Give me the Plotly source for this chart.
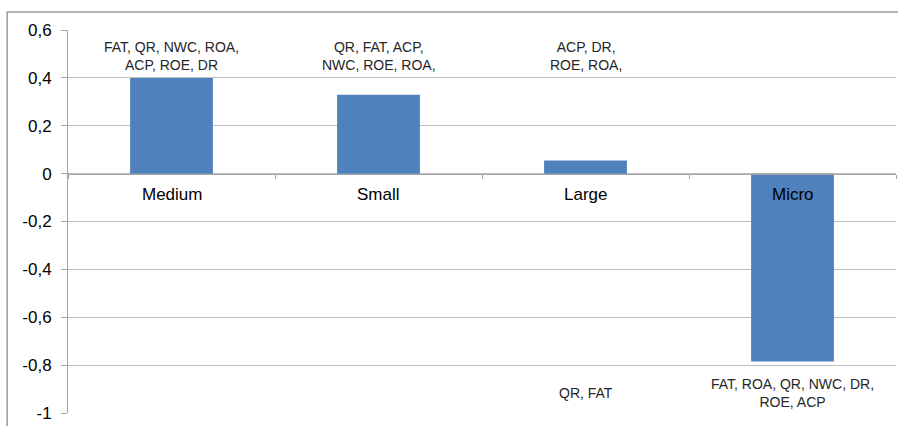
import plotly.graph_objects as go

# Size groups and their score on the axis
categories = ["Medium", "Small", "Large", "Micro"]
values = [0.40, 0.33, 0.055, -0.785]

# Ratio lists written next to each bar
upper_notes = ["FAT, QR, NWC, ROA,<br>ACP, ROE, DR",
               "QR, FAT, ACP,<br>NWC, ROE, ROA,",
               "ACP, DR,<br>ROE, ROA,",
               ""]
lower_notes = ["", "", "QR, FAT", "FAT, ROA, QR, NWC, DR,<br>ROE, ACP"]

y_ticks = [0.6, 0.4, 0.2, 0, -0.2, -0.4, -0.6, -0.8, -1]

FONT = "Liberation Sans, Arial, sans-serif"

fig = go.Figure(
    go.Bar(x=categories, y=values, width=0.4,
           marker=dict(color="#4f81bd", line=dict(width=0)))
)

annotations = []
for cat, up, low in zip(categories, upper_notes, lower_notes):
    if up:
        annotations.append(dict(x=cat, y=0.49, text=up, showarrow=False,
                                xref="x", yref="y", yanchor="middle",
                                font=dict(family=FONT, size=14, color="#262626")))
    if low:
        annotations.append(dict(x=cat, y=-0.915, text=low, showarrow=False,
                                xref="x", yref="y", yanchor="middle",
                                font=dict(family=FONT, size=14, color="#262626")))
    annotations.append(dict(x=cat, y=-0.088, text=cat, showarrow=False,
                            xref="x", yref="y", yanchor="middle",
                            font=dict(family=FONT, size=17, color="#000000")))

# y position of the zero line in paper units
zero_pos = (0 - y_ticks[-1]) / (y_ticks[0] - y_ticks[-1])

fig.update_layout(
    width=898, height=426,
    margin=dict(l=68, r=2, t=30, b=13),
    paper_bgcolor="white", plot_bgcolor="white",
    separators=", ",
    showlegend=False,
    font=dict(family=FONT),
    annotations=annotations,
    shapes=[dict(type="rect", xref="paper", yref="paper",
                 x0=-0.0735, x1=1.05, y0=-0.2, y1=1.047,
                 line=dict(color="#9a9a9a", width=1.5), layer="below")],
    xaxis=dict(
        anchor="free", position=zero_pos,
        showline=True, linecolor="#a6a6a6", linewidth=1,
        ticks="outside", tickson="boundaries", ticklen=4, tickcolor="#a6a6a6",
        showticklabels=False, showgrid=False, zeroline=False,
        range=[-0.5, 3.5],
    ),
    yaxis=dict(
        range=[-1, 0.6], tickvals=y_ticks,
        ticktext=["0,6", "0,4", "0,2", "0", "-0,2", "-0,4", "-0,6", "-0,8", "-1"],
        showgrid=True, gridcolor="#bdbdbd", gridwidth=1,
        showline=True, linecolor="#a6a6a6", linewidth=1,
        ticks="outside", ticklen=6, tickcolor="#a6a6a6",
        ticklabelstandoff=6,
        zeroline=False,
        tickfont=dict(family=FONT, size=17, color="#000000"),
    ),
)

fig.write_html("out.html")
